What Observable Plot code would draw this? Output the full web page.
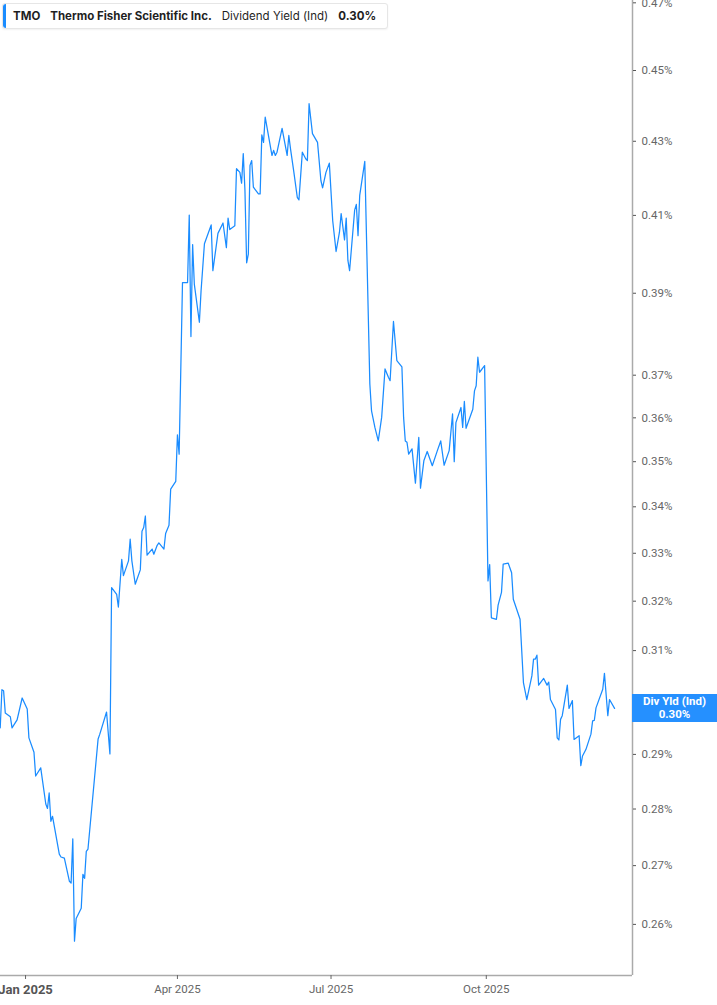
<!DOCTYPE html>
<html>
<head>
<meta charset="utf-8">
<script src="https://cdn.jsdelivr.net/npm/d3@7"></script>
<script src="https://cdn.jsdelivr.net/npm/@observablehq/plot@0.6"></script>
<style>
  html, body { margin: 0; padding: 0; background: #fff; }
  #wrap { position: relative; width: 717px; height: 1005px; overflow: hidden; font-family: Inter, "Noto Sans", sans-serif; }
  #legend { position: absolute; left: 2px; top: 3px; height: 26px; width: 386px; box-sizing: border-box;
    border: 1px solid #e6e6e6; border-radius: 3px; background: #fff; box-shadow: 0 1px 2px rgba(0,0,0,0.06);
    display: flex; align-items: center; font-size: 11.5px; color: #1f1f1f; white-space: nowrap; z-index: 2; }
  #legend .bar { position: absolute; left: 0; top: 0; bottom: 0; width: 3px; background: #1a8cff; border-radius: 3px 0 0 3px; }
  #legend span { margin-right: 10px; }
  #legend b { font-weight: 700; }
  #tag { position: absolute; left: 632px; width: 85px; height: 28px; background: #2590ff; color: #fff;
    font-family: Roboto, "Noto Sans", sans-serif; font-weight: 700; font-size: 11.5px; line-height: 13px;
    text-align: center; display: flex; flex-direction: column; justify-content: center; z-index: 2; }
</style>
</head>
<body>
<div id="wrap">
  <div id="legend"><div class="bar"></div>
    <span style="margin-left:10px"><b>TMO</b></span>
    <span><b>Thermo Fisher Scientific Inc.</b></span>
    <span>Dividend Yield (Ind)</span>
    <span><b>0.30%</b></span>
  </div>
  <div id="chart"></div>
  <div id="tag"><div>Div Yld (Ind)</div><div>0.30%</div></div>
</div>
<script>
// Dividend yield (%) of TMO
const dates = [
"2024-12-17","2024-12-18","2024-12-19","2024-12-20","2024-12-23","2024-12-24","2024-12-27","2024-12-30",
"2025-01-02","2025-01-03","2025-01-06","2025-01-07","2025-01-10","2025-01-13","2025-01-14","2025-01-15",
"2025-01-16","2025-01-17","2025-01-21","2025-01-22","2025-01-24","2025-01-27","2025-01-28","2025-01-29",
"2025-01-30","2025-01-31","2025-02-03","2025-02-04","2025-02-05","2025-02-06","2025-02-07","2025-02-13",
"2025-02-14","2025-02-18","2025-02-20","2025-02-21","2025-02-24","2025-02-25","2025-02-27","2025-02-28",
"2025-03-03","2025-03-04","2025-03-05","2025-03-07","2025-03-10","2025-03-11","2025-03-12","2025-03-13",
"2025-03-14","2025-03-17","2025-03-18","2025-03-20","2025-03-21","2025-03-24","2025-03-25","2025-03-27",
"2025-03-28","2025-03-31","2025-04-01","2025-04-02","2025-04-04","2025-04-07","2025-04-08","2025-04-09",
"2025-04-10","2025-04-11","2025-04-14","2025-04-15","2025-04-17","2025-04-21","2025-04-22","2025-04-25",
"2025-04-28","2025-04-30","2025-05-01","2025-05-02","2025-05-05","2025-05-06","2025-05-08","2025-05-09",
"2025-05-10","2025-05-11","2025-05-12","2025-05-13","2025-05-14","2025-05-15","2025-05-16","2025-05-19",
"2025-05-20","2025-05-21","2025-05-22","2025-05-23","2025-05-27","2025-05-28","2025-05-29","2025-05-30",
"2025-06-02","2025-06-05","2025-06-06","2025-06-07","2025-06-09","2025-06-11","2025-06-12","2025-06-14",
"2025-06-16","2025-06-17","2025-06-18","2025-06-20","2025-06-23","2025-06-25","2025-06-26","2025-06-28",
"2025-06-30","2025-07-02","2025-07-04","2025-07-06","2025-07-07","2025-07-09","2025-07-10","2025-07-11",
"2025-07-12","2025-07-15","2025-07-16","2025-07-17","2025-07-18","2025-07-21","2025-07-24","2025-07-25",
"2025-07-27","2025-07-29","2025-07-31","2025-08-02","2025-08-04","2025-08-05","2025-08-07","2025-08-09",
"2025-08-12","2025-08-13","2025-08-14","2025-08-15","2025-08-16","2025-08-18","2025-08-20","2025-08-22",
"2025-08-23","2025-08-25","2025-08-27","2025-08-30","2025-09-02","2025-09-04","2025-09-06","2025-09-09",
"2025-09-11","2025-09-12","2025-09-13","2025-09-16","2025-09-17","2025-09-18","2025-09-19","2025-09-23",
"2025-09-24","2025-09-25","2025-09-26","2025-09-27","2025-09-30","2025-10-02","2025-10-03","2025-10-04",
"2025-10-07","2025-10-08","2025-10-10","2025-10-11","2025-10-14","2025-10-16","2025-10-17","2025-10-21",
"2025-10-23","2025-10-25","2025-10-28","2025-10-29","2025-10-30","2025-10-31","2025-11-01","2025-11-04",
"2025-11-06","2025-11-07","2025-11-08","2025-11-11","2025-11-12","2025-11-13","2025-11-14","2025-11-15",
"2025-11-18","2025-11-19","2025-11-21","2025-11-22","2025-11-25","2025-11-26","2025-11-27","2025-11-29",
"2025-12-02","2025-12-03","2025-12-04","2025-12-05","2025-12-09","2025-12-10","2025-12-12","2025-12-13",
"2025-12-16"
];
const yields = [
0.2950,0.3023,0.3021,0.2978,0.2971,0.2950,0.2965,0.3007,
0.2986,0.2931,0.2904,0.2860,0.2875,0.2809,0.2801,0.2829,
0.2778,0.2787,0.2720,0.2715,0.2713,0.2673,0.2670,0.2747,
0.2572,0.2610,0.2627,0.2685,0.2678,0.2725,0.2729,0.2929,
0.2938,0.2980,0.2901,0.3228,0.3214,0.3188,0.3287,0.3253,
0.3284,0.3330,0.3284,0.3235,0.3265,0.3347,0.3355,0.3380,
0.3296,0.3309,0.3298,0.3317,0.3322,0.3309,0.3342,0.3360,
0.3439,0.3456,0.3561,0.3517,0.3927,0.3927,0.4101,0.3793,
0.4024,0.3923,0.3828,0.3906,0.4026,0.4075,0.3957,0.4053,
0.4080,0.4016,0.4093,0.4063,0.4073,0.4225,0.4215,0.4186,
0.4266,0.4166,0.3977,0.3999,0.4234,0.4247,0.4175,0.4157,
0.4157,0.4318,0.4297,0.4367,0.4261,0.4275,0.4261,0.4270,
0.4336,0.4261,0.4316,0.4279,0.4215,0.4148,0.4141,0.4270,
0.4252,0.4247,0.4405,0.4321,0.4297,0.4193,0.4173,0.4215,
0.4240,0.4086,0.4006,0.4056,0.4105,0.4036,0.4093,0.3983,
0.3957,0.4114,0.4129,0.4047,0.4153,0.4245,0.3679,0.3616,
0.3578,0.3547,0.3601,0.3715,0.3695,0.3687,0.3830,0.3735,
0.3720,0.3601,0.3547,0.3544,0.3517,0.3529,0.3452,0.3555,
0.3441,0.3502,0.3523,0.3491,0.3525,0.3547,0.3492,0.3525,
0.3609,0.3500,0.3589,0.3624,0.3578,0.3638,0.3576,0.3620,
0.3663,0.3675,0.3743,0.3707,0.3723,0.3242,0.3276,0.3166,
0.3163,0.3192,0.3218,0.3277,0.3279,0.3259,0.3204,0.3163,
0.3037,0.3004,0.3050,0.3083,0.3083,0.3091,0.3032,0.3045,
0.3032,0.3038,0.3004,0.2985,0.2931,0.2927,0.2966,0.2973,
0.3032,0.2987,0.3002,0.2928,0.2935,0.2879,0.2897,0.2909,
0.2938,0.2963,0.2964,0.2988,0.3024,0.3055,0.2973,0.3004,
0.2987
];
const yTicks = [0.26, 0.27, 0.28, 0.29, 0.31, 0.32, 0.33, 0.34, 0.35, 0.36, 0.37, 0.39, 0.41, 0.43, 0.45, 0.47];
const xTickDates = ["2025-01-01", "2025-04-01", "2025-07-01", "2025-10-01"];
const xTickLabels = ["Jan 2025", "Apr 2025", "Jul 2025", "Oct 2025"];
const lastLabel = "0.30%";

const data = dates.map((d, i) => ({date: new Date(d), value: yields[i]}));
const xTicks = xTickDates.map(d => new Date(d));
const xLabel = new Map(xTicks.map((d, i) => [+d, xTickLabels[i]]));
const xDomain = [new Date("2024-12-17T04:00:00Z"), new Date("2025-12-26T15:00:00Z")];
const yDomain = [0.2516, 0.4707];

const chart = Plot.plot({
  width: 717,
  height: 1005,
  marginLeft: 0,
  marginRight: 85,
  marginTop: 0,
  marginBottom: 30,
  style: {fontFamily: "Roboto, 'Noto Sans', sans-serif", fontSize: "11.5px", background: "transparent", overflow: "visible"},
  x: {type: "utc", domain: xDomain},
  y: {type: "log", domain: yDomain},
  marks: [
    Plot.ruleX([xDomain[1]], {stroke: "#aaaaaa", strokeWidth: 1.5}),
    Plot.ruleY([yDomain[0]], {stroke: "#aaaaaa", strokeWidth: 1.5}),
    Plot.axisY({anchor: "right", ticks: yTicks, tickSize: 3, tickPadding: 6, stroke: "#555",
      tickFormat: d => d.toFixed(2) + "%", fill: "#666", label: null}),
    Plot.axisX({ticks: xTicks.slice(0, 1), tickSize: 4, tickPadding: 5, stroke: "#666",
      tickFormat: d => xLabel.get(+d), fill: "#555", fontWeight: "bold", fontSize: 13, label: null}),
    Plot.axisX({ticks: xTicks.slice(1), tickSize: 4, tickPadding: 5, stroke: "#666",
      tickFormat: d => xLabel.get(+d), fill: "#666", fontSize: 11.5, label: null}),
    Plot.line(data, {x: "date", y: "value", stroke: "#1a8cff", strokeWidth: 1.25, curve: "linear"})
  ]
});
document.getElementById("chart").appendChild(chart);

// Position the last-value tag using the plot's own y scale
const last = data[data.length - 1];
const ty = chart.scale("y").apply(last.value);
const tag = document.getElementById("tag");
tag.style.top = (ty - 14) + "px";
tag.lastElementChild.textContent = lastLabel;
</script>
</body>
</html>
